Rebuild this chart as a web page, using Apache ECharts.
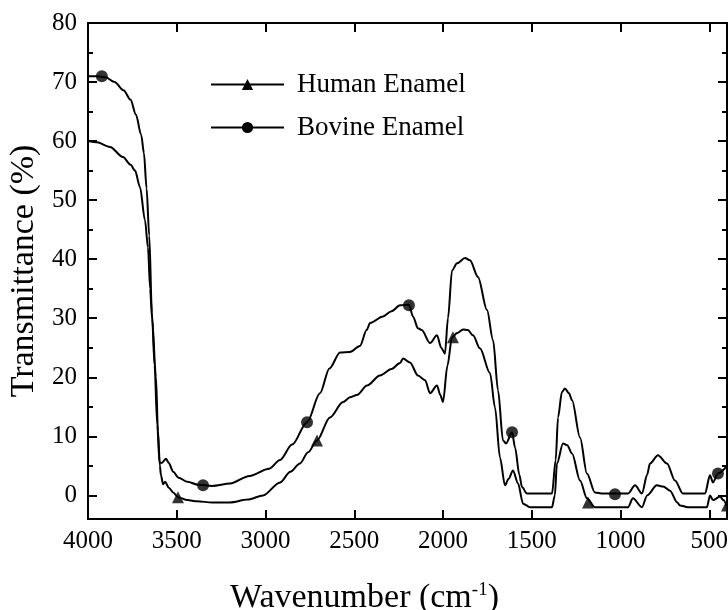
<!DOCTYPE html>
<html>
<head>
<meta charset="utf-8">
<script src="https://cdn.jsdelivr.net/npm/echarts@6/dist/echarts.min.js"></script>
<style>
  html, body { margin: 0; padding: 0; background: #fff; }
  #chart { width: 728px; height: 610px; }
</style>
</head>
<body>
<div id="chart"></div>
<script>
// wavenumber (cm-1), transmittance (%)
var humanEnamel = [
  [4000, 60], [3950, 59.8], [3876, 59], [3803, 57.3], [3760, 56], [3735, 55],
  [3707, 52.2], [3679, 46.6], [3662, 42], [3650, 35], [3639, 30], [3617, 20],
  [3606, 11], [3595, 5], [3589, 3.4], [3577, 1.9], [3565, 2.3], [3545, 1.3],
  [3520, 0.5], [3493, -0.3], [3440, -0.8], [3386, -1.0], [3300, -1.2], [3200, -1.2],
  [3100, -0.7], [3014, 0], [2918, 2.2], [2860, 4], [2806, 5.4], [2760, 7.3],
  [2710, 9.3], [2637, 13.2], [2563, 15.8], [2524, 16.6], [2485, 17], [2428, 18.6],
  [2355, 20.3], [2290, 21.4], [2242, 22.4], [2225, 23.2], [2186, 22.5], [2141, 20.3],
  [2101, 19.5], [2073, 17.3], [2034, 18.6], [2015, 17], [2000, 15.8], [1975, 22],
  [1949, 26.8], [1920, 27.5], [1887, 28.1], [1860, 28], [1831, 27.1], [1792, 24.9],
  [1735, 20.7], [1707, 14.9], [1679, 6.4], [1651, 1.7], [1630, 2.8], [1606, 4.2],
  [1577, 2.0], [1549, -1.4], [1510, -2.0], [1386, -2.0], [1370, 0], [1358, 5.4],
  [1324, 8.8], [1300, 8.5], [1273, 7.1], [1228, 2.5], [1189, -0.5], [1144, -2.0],
  [958, -2.0], [930, -0.5], [879, -2.0], [850, 0], [795, 1.7], [760, 1.5],
  [721, 0.8], [680, -1.2], [665, -1.7], [620, -2], [513, -2], [496, 0],
  [479, -0.8], [439, -0.2], [420, -0.8], [400, -2.0]
];
var bovineEnamel = [
  [4000, 71], [3950, 71], [3900, 70.8], [3850, 70], [3800, 68.6], [3760, 67],
  [3730, 64.5], [3700, 61], [3685, 58], [3670, 52], [3655, 44], [3640, 31],
  [3625, 22], [3610, 12], [3597, 5.6], [3585, 5.5], [3560, 6.2], [3545, 5.5],
  [3520, 4], [3490, 3], [3440, 2.3], [3380, 1.8], [3300, 1.6], [3200, 2.0],
  [3090, 3.3], [2980, 4.5], [2918, 6.0], [2850, 8.6], [2766, 12.4], [2693, 17.3],
  [2640, 21.5], [2580, 24.2], [2524, 24.3], [2468, 25.3], [2430, 28.0], [2411, 29.2],
  [2338, 30.3], [2290, 31.2], [2242, 32.2], [2192, 32.3], [2169, 30.3], [2141, 28.3],
  [2120, 28.0], [2073, 25.8], [2034, 27.1], [2010, 25], [1989, 24.0], [1972, 30],
  [1949, 38.1], [1921, 39.3], [1876, 40.2], [1848, 39.8], [1803, 37.0], [1752, 31.4],
  [1718, 26.3], [1690, 17.8], [1662, 9.3], [1645, 8.8], [1611, 10.7], [1594, 8.1],
  [1570, 3.5], [1555, 1.4], [1527, 0.3], [1386, 0.3], [1365, 6], [1352, 13.2],
  [1330, 17.5], [1313, 18.1], [1290, 17.3], [1273, 16.1], [1228, 9.8], [1189, 3.7],
  [1144, 0.5], [1100, 0.3], [958, 0.3], [918, 1.7], [879, 0.3], [850, 3.5],
  [834, 5.4], [789, 6.8], [738, 5.4], [693, 2.5], [648, 0.3], [524, 0.3],
  [496, 3.4], [479, 2.2], [451, 3.7], [400, 5.0]
];
var humanMarkers = [[3493, -0.3], [2710, 9.3], [1944, 26.8], [1183, -1.2], [400, -1.7]];
var bovineMarkers = [[3922, 71], [3352, 1.7], [2766, 12.4], [2192, 32.2], [1611, 10.7], [1031, 0.2], [451, 3.7]];
var seriesNames = ['Human Enamel', 'Bovine Enamel'];

var font = 'Liberation Serif';
var myChart = echarts.init(document.getElementById('chart'));

var frameLine = { onZero: false, lineStyle: { color: '#000', width: 2 } };
var tick = { inside: true, length: 9, lineStyle: { color: '#000', width: 2 } };
var minor = { show: true, splitNumber: 2, length: 5, lineStyle: { color: '#000', width: 2 } };
var plain = function (v) { return String(v); };

var option = {
  animation: false,
  grid: { left: 88, right: 1, top: 23, bottom: 91, containLabel: false, outerBoundsMode: 'none' },
  legend: {
    data: seriesNames,
    orient: 'vertical',
    left: 205,
    top: 66,
    itemWidth: 73,
    itemHeight: 14,
    itemGap: 16,
    textStyle: { fontFamily: font, fontSize: 27, color: '#000', padding: [0, 0, 0, 8] }
  },
  xAxis: [
    {
      type: 'value', min: 400, max: 4000, inverse: true, splitNumber: 7,
      position: 'bottom',
      axisLine: frameLine, axisTick: tick, splitLine: { show: false },
      axisLabel: { showMinLabel: false, formatter: plain, fontFamily: font, fontSize: 25, color: '#000', margin: 10 },
      name: 'Wavenumber (cm{sup|-1})',
      nameLocation: 'middle',
      nameGap: 62,
      nameTextStyle: {
        fontFamily: font, fontSize: 34, color: '#000', padding: [0, 86, 0, 0],
        rich: { sup: { fontFamily: font, fontSize: 19, color: '#000', verticalAlign: 'top' } }
      }
    },
    {
      type: 'value', min: 400, max: 4000, inverse: true, splitNumber: 7,
      position: 'top',
      axisLine: frameLine, axisTick: tick, splitLine: { show: false },
      axisLabel: { show: false }
    }
  ],
  yAxis: [
    {
      type: 'value', min: -4, max: 80, splitNumber: 8,
      position: 'left',
      axisLine: { show: true, onZero: false, lineStyle: { color: '#000', width: 2 } },
      axisTick: tick, minorTick: minor, splitLine: { show: false },
      axisLabel: { showMinLabel: false, formatter: plain, fontFamily: font, fontSize: 25, color: '#000', margin: 11 },
      name: 'Transmittance (%)',
      nameLocation: 'middle',
      nameGap: 46,
      nameTextStyle: { fontFamily: font, fontSize: 34, color: '#000' }
    },
    {
      type: 'value', min: -4, max: 80, splitNumber: 8,
      position: 'right',
      axisLine: { show: true, onZero: false, lineStyle: { color: '#000', width: 2 } },
      axisTick: tick, minorTick: minor, splitLine: { show: false },
      axisLabel: { show: false }
    }
  ],
  series: [
    {
      name: seriesNames[0], type: 'line', data: humanEnamel,
      symbol: 'triangle', symbolSize: 11, showSymbol: false,
      smooth: 0.3, smoothMonotone: 'x',
      lineStyle: { color: '#000', width: 2 }, itemStyle: { color: '#000' }
    },
    {
      name: seriesNames[1], type: 'line', data: bovineEnamel,
      symbol: 'circle', symbolSize: 11, showSymbol: false,
      smooth: 0.3, smoothMonotone: 'x',
      lineStyle: { color: '#000', width: 2 }, itemStyle: { color: '#000' }
    },
    {
      name: 'humanMarks', type: 'scatter', data: humanMarkers,
      symbol: 'triangle', symbolSize: 12, itemStyle: { color: '#000' }, z: 3
    },
    {
      name: 'bovineMarks', type: 'scatter', data: bovineMarkers,
      symbol: 'circle', symbolSize: 12, itemStyle: { color: '#000' }, z: 3
    }
  ]
};
option && myChart.setOption(option);
</script>
</body>
</html>
